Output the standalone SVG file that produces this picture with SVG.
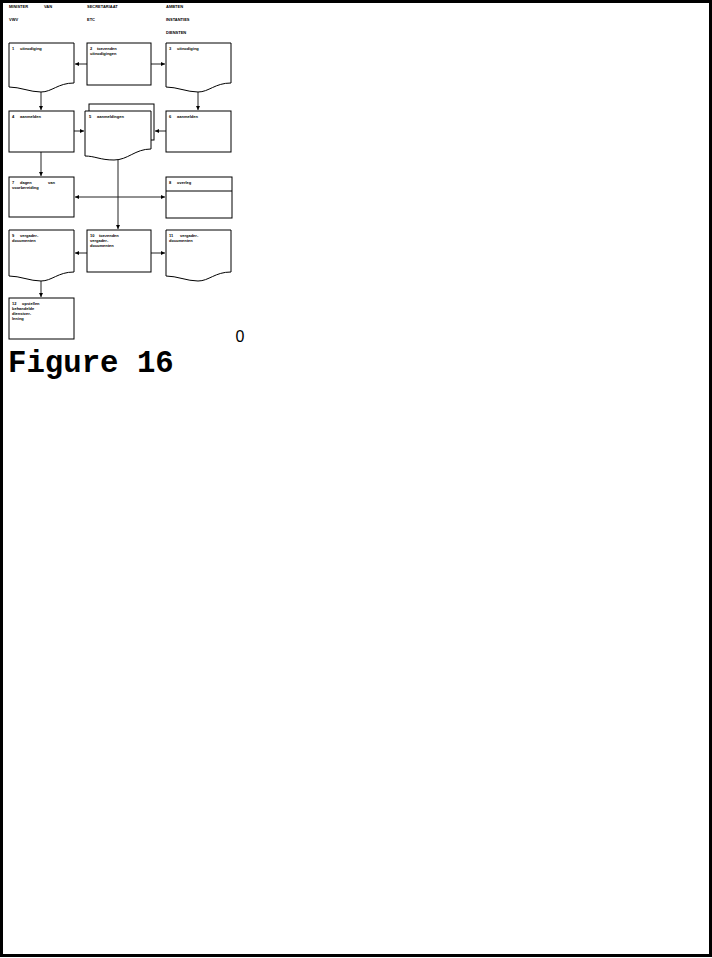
<svg xmlns="http://www.w3.org/2000/svg" width="712" height="958" viewBox="0 0 712 958">
<style>
.bx{fill:#fff;stroke:#000;stroke-width:1}
.t{font-family:"Liberation Sans",Arial,sans-serif;font-weight:bold;font-size:4px;fill:#000}
.c{fill:none;stroke:#222;stroke-width:1}
</style>
<defs>
<marker id="a" viewBox="0 0 6 6" refX="6" refY="3" markerWidth="4" markerHeight="4" orient="auto"><path d="M0,0 L6,3 L0,6 Z" fill="#000"/></marker>
</defs>
<rect x="1.5" y="1.5" width="709" height="954" fill="#fff" stroke="#000" stroke-width="3"/>
<g id="headers">
<text class="t" y="8"><tspan x="9">MINISTER</tspan><tspan x="44">VAN</tspan></text>
<text class="t" x="9" y="21">VWV</text>
<text class="t" x="87" y="8">SECRETARIAAT</text>
<text class="t" x="87" y="21">ETC</text>
<text class="t" x="166" y="8">AMBTEN</text>
<text class="t" x="166" y="21">INSTANTIES</text>
<text class="t" x="166" y="34">DIENSTEN</text>
</g>
<g id="connectors">
<line class="c" x1="87" y1="64" x2="75" y2="64" marker-end="url(#a)"/>
<line class="c" x1="151" y1="64" x2="165" y2="64" marker-end="url(#a)"/>
<line class="c" x1="41" y1="91" x2="41" y2="110" marker-end="url(#a)"/>
<line class="c" x1="198" y1="91" x2="198" y2="110" marker-end="url(#a)"/>
<line class="c" x1="74" y1="131" x2="84" y2="131" marker-end="url(#a)"/>
<line class="c" x1="166" y1="131" x2="155" y2="131" marker-end="url(#a)"/>
<line class="c" x1="41" y1="152" x2="41" y2="176" marker-end="url(#a)"/>
<line class="c" x1="118" y1="158" x2="118" y2="229" marker-end="url(#a)"/>
<line class="c" x1="118" y1="197" x2="75" y2="197" marker-end="url(#a)"/>
<line class="c" x1="118" y1="197" x2="165" y2="197" marker-end="url(#a)"/>
<line class="c" x1="87" y1="253" x2="75" y2="253" marker-end="url(#a)"/>
<line class="c" x1="151" y1="253" x2="165" y2="253" marker-end="url(#a)"/>
<line class="c" x1="41" y1="280" x2="41" y2="297" marker-end="url(#a)"/>
</g>
<g id="n1">
<path class="bx" d="M9,43 H74 V83 C58,83 52,92 41,92 C30,92 20,87 9,87 Z"/>
<text class="t" y="50"><tspan x="12">1</tspan><tspan x="20">uitnodiging</tspan></text>
</g>
<g id="n2">
<rect class="bx" x="87" y="43" width="64" height="42"/>
<text class="t" y="50"><tspan x="90">2</tspan><tspan x="97">toezenden</tspan></text>
<text class="t" x="90" y="55">uitnodigingen</text>
</g>
<g id="n3">
<path class="bx" d="M166,43 H231 V83 C215,83 209,92 198,92 C187,92 177,87 166,87 Z"/>
<text class="t" y="50"><tspan x="169">3</tspan><tspan x="177">uitnodiging</tspan></text>
</g>
<g id="n4">
<rect class="bx" x="9" y="111" width="65" height="41"/>
<text class="t" y="118"><tspan x="12">4</tspan><tspan x="20">aanmelden</tspan></text>
</g>
<g id="n5">
<rect class="bx" x="89" y="104" width="65" height="36"/>
<path class="bx" d="M85,111 H151 V149 C135,149 128,160 114,160 C100,160 95,156 85,156 Z"/>
<text class="t" y="118"><tspan x="89">5</tspan><tspan x="97">aanmeldingen</tspan></text>
</g>
<g id="n6">
<rect class="bx" x="166" y="111" width="65" height="41"/>
<text class="t" y="118"><tspan x="169">6</tspan><tspan x="177">aanmelden</tspan></text>
</g>
<g id="n7">
<rect class="bx" x="9" y="177" width="65" height="40"/>
<text class="t" y="184"><tspan x="12">7</tspan><tspan x="20">dagen</tspan><tspan x="48">van</tspan></text>
<text class="t" x="12" y="189">voorbereiding</text>
</g>
<g id="n8">
<rect class="bx" x="166" y="177" width="66" height="41"/>
<line x1="166" y1="191" x2="232" y2="191" stroke="#000" stroke-width="1"/>
<text class="t" y="184"><tspan x="169">8</tspan><tspan x="177">overleg</tspan></text>
</g>
<g id="n9">
<path class="bx" d="M9,230 H74 V272 C58,272 52,281 41,281 C30,281 20,276 9,276 Z"/>
<text class="t" y="237"><tspan x="12">9</tspan><tspan x="20">vergader-</tspan></text>
<text class="t" x="12" y="242">documenten</text>
</g>
<g id="n10">
<rect class="bx" x="87" y="230" width="64" height="42"/>
<text class="t" y="237"><tspan x="90">10</tspan><tspan x="99">toezenden</tspan></text>
<text class="t" x="90" y="242">vergader-</text>
<text class="t" x="90" y="247">documenten</text>
</g>
<g id="n11">
<path class="bx" d="M166,230 H231 V272 C215,272 209,281 198,281 C187,281 177,276 166,276 Z"/>
<text class="t" y="237"><tspan x="169">11</tspan><tspan x="180">vergader-</tspan></text>
<text class="t" x="169" y="242">documenten</text>
</g>
<g id="n12">
<rect class="bx" x="9" y="298" width="65" height="41"/>
<text class="t" y="305"><tspan x="12">12</tspan><tspan x="22">opstellen</tspan></text>
<text class="t" x="12" y="310">behandelde</text>
<text class="t" x="12" y="315">dienstver-</text>
<text class="t" x="12" y="320">lening</text>
</g>
<text x="240" y="342" text-anchor="middle" font-family="'Liberation Sans',Arial,sans-serif" font-size="16" fill="#000">0</text>
<text x="8" y="372" font-family="'Liberation Mono','Courier New',monospace" font-weight="bold" font-size="30.7" fill="#000">Figure 16</text>
</svg>
